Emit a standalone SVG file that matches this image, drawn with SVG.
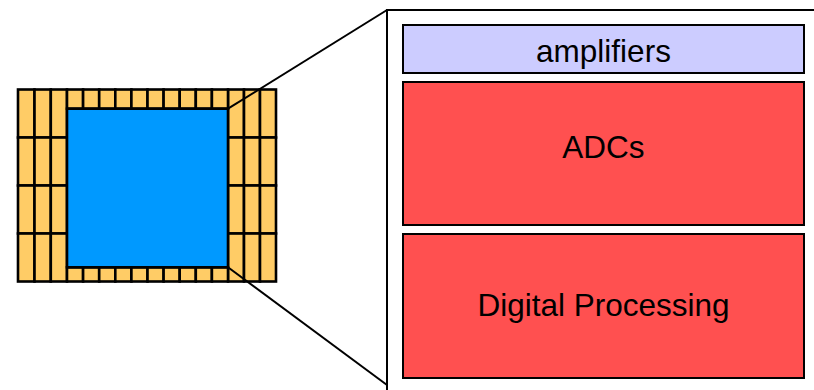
<svg xmlns="http://www.w3.org/2000/svg" width="814" height="390" viewBox="0 0 814 390">
  <style>
    .pad { fill: #FFCC66; stroke: #000; stroke-width: 2.6; }
    .core { fill: #0099FF; stroke: #000; stroke-width: 2.6; }
    .panel { fill: #FFFFFF; stroke: #000; stroke-width: 2; }
    .amp { fill: #CCCCFF; stroke: #000; stroke-width: 2; }
    .blk { fill: #FF5050; stroke: #000; stroke-width: 2; }
    .lbl { font-family: "Liberation Sans", Arial, sans-serif; font-size: 31.5px; fill: #000; text-anchor: middle; }
    .conn { stroke: #000; stroke-width: 2; fill: none; }
  </style>

  <!-- chip: pad ring around the core -->
  <g id="chip">
    <!-- left pad columns -->
    <g>
      <rect class="pad" x="18" y="89.5" width="16.5" height="48"/>
      <rect class="pad" x="34.5" y="89.5" width="16.3" height="48"/>
      <rect class="pad" x="50.8" y="89.5" width="16.2" height="48"/>
      <rect class="pad" x="18" y="137.5" width="16.5" height="48"/>
      <rect class="pad" x="34.5" y="137.5" width="16.3" height="48"/>
      <rect class="pad" x="50.8" y="137.5" width="16.2" height="48"/>
      <rect class="pad" x="18" y="185.5" width="16.5" height="48"/>
      <rect class="pad" x="34.5" y="185.5" width="16.3" height="48"/>
      <rect class="pad" x="50.8" y="185.5" width="16.2" height="48"/>
      <rect class="pad" x="18" y="233.5" width="16.5" height="48"/>
      <rect class="pad" x="34.5" y="233.5" width="16.3" height="48"/>
      <rect class="pad" x="50.8" y="233.5" width="16.2" height="48"/>
    </g>
    <!-- right pad columns -->
    <g>
      <rect class="pad" x="228" y="89.5" width="16" height="48"/>
      <rect class="pad" x="244" y="89.5" width="16" height="48"/>
      <rect class="pad" x="260" y="89.5" width="16" height="48"/>
      <rect class="pad" x="228" y="137.5" width="16" height="48"/>
      <rect class="pad" x="244" y="137.5" width="16" height="48"/>
      <rect class="pad" x="260" y="137.5" width="16" height="48"/>
      <rect class="pad" x="228" y="185.5" width="16" height="48"/>
      <rect class="pad" x="244" y="185.5" width="16" height="48"/>
      <rect class="pad" x="260" y="185.5" width="16" height="48"/>
      <rect class="pad" x="228" y="233.5" width="16" height="48"/>
      <rect class="pad" x="244" y="233.5" width="16" height="48"/>
      <rect class="pad" x="260" y="233.5" width="16" height="48"/>
    </g>
    <!-- top pad row -->
    <g>
      <rect class="pad" x="67" y="89.5" width="16.1" height="19.2"/>
      <rect class="pad" x="83.1" y="89.5" width="16.1" height="19.2"/>
      <rect class="pad" x="99.2" y="89.5" width="16.1" height="19.2"/>
      <rect class="pad" x="115.3" y="89.5" width="16.1" height="19.2"/>
      <rect class="pad" x="131.4" y="89.5" width="16.1" height="19.2"/>
      <rect class="pad" x="147.5" y="89.5" width="16.1" height="19.2"/>
      <rect class="pad" x="163.6" y="89.5" width="16.1" height="19.2"/>
      <rect class="pad" x="179.7" y="89.5" width="16.1" height="19.2"/>
      <rect class="pad" x="195.8" y="89.5" width="16.1" height="19.2"/>
      <rect class="pad" x="211.9" y="89.5" width="16.1" height="19.2"/>
    </g>
    <!-- bottom pad row -->
    <g>
      <rect class="pad" x="67" y="267.3" width="16.1" height="14.2"/>
      <rect class="pad" x="83.1" y="267.3" width="16.1" height="14.2"/>
      <rect class="pad" x="99.2" y="267.3" width="16.1" height="14.2"/>
      <rect class="pad" x="115.3" y="267.3" width="16.1" height="14.2"/>
      <rect class="pad" x="131.4" y="267.3" width="16.1" height="14.2"/>
      <rect class="pad" x="147.5" y="267.3" width="16.1" height="14.2"/>
      <rect class="pad" x="163.6" y="267.3" width="16.1" height="14.2"/>
      <rect class="pad" x="179.7" y="267.3" width="16.1" height="14.2"/>
      <rect class="pad" x="195.8" y="267.3" width="16.1" height="14.2"/>
      <rect class="pad" x="211.9" y="267.3" width="16.1" height="14.2"/>
    </g>
    <!-- core -->
    <rect id="core" class="core" x="67" y="108.7" width="161" height="158.6"/>
  </g>

  <!-- zoom lines from the core corners to the detail panel -->
  <g id="connectors">
    <line class="conn" x1="228" y1="108.7" x2="387" y2="10"/>
    <line class="conn" x1="228" y1="267.3" x2="387" y2="385"/>
  </g>

  <!-- detail panel -->
  <g id="panel">
    <rect class="panel" x="387" y="10" width="440" height="400"/>
  </g>

  <g id="amplifiers">
    <rect class="amp" x="403" y="25" width="401" height="48"/>
    <text class="lbl" x="603.5" y="61.5">amplifiers</text>
  </g>

  <g id="adcs">
    <rect class="blk" x="403" y="82" width="401" height="143"/>
    <text class="lbl" x="603.5" y="158">ADCs</text>
  </g>

  <g id="digital-processing">
    <rect class="blk" x="403" y="234" width="401" height="144"/>
    <text class="lbl" x="603.5" y="316">Digital Processing</text>
  </g>
</svg>
